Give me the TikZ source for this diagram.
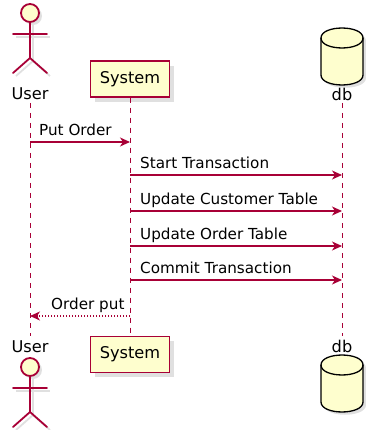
\documentclass[tikz,border=0pt]{standalone}
\usepackage{fontspec}
\setmainfont{DejaVu Sans}
\usetikzlibrary{positioning,arrows.meta}
\definecolor{umlred}{HTML}{A80036}
\definecolor{umlfill}{HTML}{FEFECE}

\begin{document}
\begin{tikzpicture}[x=1pt,y=-1pt,
    lifeline/.style={umlred,line width=0.9pt,dash pattern=on 5pt off 5pt},
    msg/.style={umlred,line width=1.1pt,-{Stealth[length=10pt,width=9pt,inset=3pt]}},
    reply/.style={msg,dash pattern=on 1.5pt off 1.5pt},
    msgtext/.style={inner sep=0pt,text depth=0pt,font=\fontsize{15.2}{18}\selectfont},
    parttext/.style={inner sep=0pt,font=\fontsize{16.2}{19}\selectfont},
    partbox/.style={draw=umlred,fill=umlfill,line width=1.4pt,minimum width=79pt,
      minimum height=36pt,inner sep=0pt,font=\fontsize{16.2}{19}\selectfont},
    stick/.style={umlred,line width=1.8pt,line cap=round},
    shade/.style={black!12}]
  \useasboundingbox (0,0) rectangle (365,430);

  % Actor "User" (top and bottom)
  \foreach \hy in {13,367} {
    \draw[shade,line width=1.8pt] (16,\hy+24) -- (50,\hy+24);
    \draw[shade,line width=1.8pt] (33,\hy+12) -- (33,\hy+48) -- (16,\hy+63);
    \draw[shade,line width=1.8pt] (33,\hy+48) -- (50,\hy+63);
    \fill[shade] (33,\hy+3) circle (9);
    \draw[stick,fill=umlfill] (30,\hy) circle (9);
    \draw[stick] (30,\hy+9) -- (30,\hy+45) -- (13,\hy+60);
    \draw[stick] (30,\hy+45) -- (47,\hy+60);
    \draw[stick] (13,\hy+21) -- (47,\hy+21);
  }
  \node[parttext] (userTopName) at (30,94) {User};
  \node[parttext] (userBotName) at (30,347) {User};

  % Participant "System"
  \fill[shade] (95,66) rectangle (174,102);
  \node[partbox] (sysTop) at (130,79) {System};
  \fill[shade] (95,341) rectangle (174,377);
  \node[partbox] (sysBot) at (130,354.5) {System};

  % Database "db"
  \foreach \ty in {28,355} {
    \fill[shade] (324,\ty+13) -- (324,\ty+50)
      .. controls (324,\ty+63) and (366,\ty+63) .. (366,\ty+50) -- (366,\ty+13)
      .. controls (366,\ty) and (324,\ty) .. (324,\ty+13) -- cycle;
    \draw[black,line width=1.3pt,fill=umlfill] (321,\ty+10) -- (321,\ty+47)
      .. controls (321,\ty+60.3) and (363,\ty+60.3) .. (363,\ty+47) -- (363,\ty+10)
      .. controls (363,\ty-3.3) and (321,\ty-3.3) .. (321,\ty+10) -- cycle;
    \draw[black,line width=1.3pt] (321,\ty+10)
      .. controls (321,\ty+23.3) and (363,\ty+23.3) .. (363,\ty+10);
  }
  \node[parttext] (dbTopName) at (342,94) {db};
  \node[parttext] (dbBotName) at (342,346) {db};

  % Lifelines
  \coordinate (userTop) at (30,103);
  \coordinate (userBot) at (30,336);
  \coordinate (dbTop) at (342,103);
  \coordinate (dbBot) at (342,336);
  \draw[lifeline] (userTop) -- (userBot);
  \draw[lifeline] (sysTop.south) -- (sysBot.north);
  \draw[lifeline] (dbTop) -- (dbBot);

  % Messages
  \coordinate (u1) at (30,142);
  \coordinate (s1) at (130,142);
  \draw[msg] (u1) -- (s1);
  \node[msgtext,above right=6pt and 9pt of u1] (putOrder) {Put Order};

  \foreach \yy/\txt in {175/Start Transaction,211/Update Customer Table,
                        246/Update Order Table,280/Commit Transaction} {
    \coordinate (s\yy) at (130,\yy);
    \coordinate (d\yy) at (342,\yy);
    \draw[msg] (s\yy) -- (d\yy);
    \node[msgtext,above right=6pt and 10pt of s\yy] (m\yy) {\txt};
  }

  % Reply
  \coordinate (s6) at (130,316);
  \coordinate (u6) at (30,316);
  \draw[reply] (s6) -- (u6);
  \node[msgtext,above right=6pt and 21pt of u6] (orderPut) {Order put};
\end{tikzpicture}
\end{document}
